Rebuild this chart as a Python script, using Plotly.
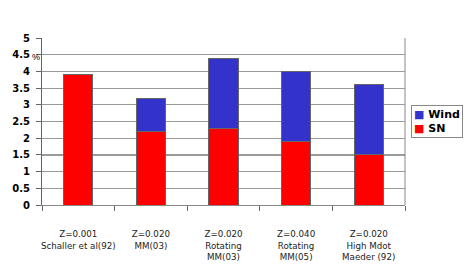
import plotly.graph_objects as go

categories = [
    "Z=0.001<br>Schaller et al(92)",
    "Z=0.020<br>MM(03)",
    "Z=0.020<br>Rotating<br>MM(03)",
    "Z=0.040<br>Rotating<br>MM(05)",
    "Z=0.020<br>High Mdot<br>Maeder (92)",
]
sn_values = [3.9, 2.2, 2.3, 1.9, 1.5]
wind_values = [0.0, 1.0, 2.1, 2.1, 2.1]
y_ticks = [0, 0.5, 1, 1.5, 2, 2.5, 3, 3.5, 4, 4.5, 5]
y_tick_labels = ["0", "0.5", "1", "1.5", "2", "2.5", "3", "3.5", "4", "4.5", "5"]

SN_COLOR = "#FF0000"
WIND_COLOR = "#3333CC"

fig = go.Figure()
fig.add_trace(go.Bar(
    x=categories, y=sn_values, name="SN",
    marker=dict(color=SN_COLOR, line=dict(color="#666666", width=1)),
    width=0.4, showlegend=False,
))
fig.add_trace(go.Bar(
    x=categories, y=wind_values, name="Wind",
    marker=dict(color=WIND_COLOR, line=dict(color="#666666", width=1)),
    width=0.4, showlegend=False,
))

fig.update_layout(
    barmode="stack",
    width=471, height=277,
    margin=dict(l=42, r=66, t=38, b=72, autoexpand=False),
    plot_bgcolor="white", paper_bgcolor="white",
    font=dict(family="Liberation Sans, Arial, sans-serif", color="#000000"),
    showlegend=False,
    xaxis=dict(
        type="category",
        tickson="boundaries",
        ticks="outside", ticklen=5, tickcolor="#666666",
        showline=True, linecolor="#888888", linewidth=1,
        showgrid=False,
        tickangle=0, automargin=False,
        tickfont=dict(family="DejaVu Sans", size=8.7, color="#222222"),
        ticklabelstandoff=21,
    ),
    yaxis=dict(
        range=[0, 5],
        tickvals=y_ticks, ticktext=y_tick_labels,
        ticks="outside", ticklen=5, tickcolor="#666666",
        showline=True, linecolor="#666666", linewidth=1,
        showgrid=True, gridcolor="#999999", gridwidth=1,
        tickfont=dict(family="DejaVu Sans", size=10, weight="bold"),
        ticklabelstandoff=4, automargin=False,
        zeroline=False,
    ),
)

# right border of the plot area
fig.add_shape(type="line", xref="paper", yref="paper", x0=1, x1=1, y0=0, y1=1,
              line=dict(color="#888888", width=1), layer="below")
# darker gridline at 1.5
fig.add_shape(type="line", xref="paper", yref="y", x0=0, x1=1, y0=1.5, y1=1.5,
              line=dict(color="#000000", width=1), layer="below")

fig.add_annotation(text="%", xref="paper", yref="y", x=0, y=4.5, xanchor="right",
                   yanchor="middle", yshift=-2, showarrow=False,
                   font=dict(size=9, color="#000000"))

# legend box
legend_text = (f'<span style="color:{WIND_COLOR}">■</span> Wind<br>'
               f'<span style="color:{SN_COLOR}">■</span> SN')
fig.add_annotation(text=legend_text, xref="paper", yref="paper",
                   x=1.016, y=0.60, xanchor="left", yanchor="top",
                   align="left", showarrow=False,
                   bordercolor="#888888", borderwidth=1, borderpad=2,
                   bgcolor="white",
                   font=dict(family="DejaVu Sans", size=11, weight="bold"))

fig.write_html("out.html", config={"displayModeBar": False},
               post_script="document.body.style.margin='0';")
